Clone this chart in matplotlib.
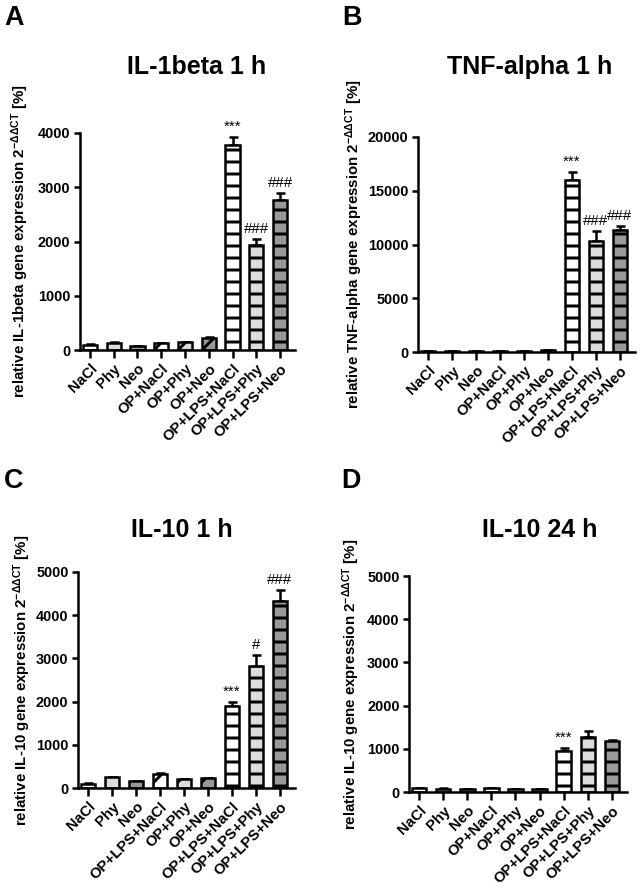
import numpy as np
import matplotlib
matplotlib.use("Agg")
import matplotlib.pyplot as plt

plt.rcParams["font.family"] = ["Liberation Sans", "DejaVu Sans"]
plt.rcParams["font.weight"] = "bold"
plt.rcParams["mathtext.fontset"] = "custom"
plt.rcParams["mathtext.rm"] = "Liberation Sans"
plt.rcParams["mathtext.it"] = "Liberation Sans:italic"
plt.rcParams["mathtext.bf"] = "Liberation Sans:bold"
plt.rcParams["hatch.linewidth"] = 3.0

# ===== data =====
groups = ["NaCl", "Phy", "Neo", "OP+NaCl", "OP+Phy", "OP+Neo",
          "OP+LPS+NaCl", "OP+LPS+Phy", "OP+LPS+Neo"]
groups_c = ["NaCl", "Phy", "Neo", "OP+LPS+NaCl", "OP+Phy", "OP+Neo",
            "OP+LPS+NaCl", "OP+LPS+Phy", "OP+LPS+Neo"]   # as printed in panel C

il1b_1h     = [100, 130, 70, 125, 145, 220, 3770, 1940, 2770]
il1b_1h_err = [10, 10, 10, 10, 10, 25, 155, 110, 115]
tnf_1h      = [60, 110, 100, 110, 70, 140, 15970, 10300, 11320]
tnf_1h_err  = [10, 20, 20, 20, 10, 30, 780, 930, 430]
il10_1h     = [95, 245, 155, 320, 205, 230, 1900, 2820, 4320]
il10_1h_err = [10, 15, 15, 20, 10, 10, 100, 255, 270]
il10_24h    = [95, 80, 75, 85, 70, 75, 940, 1265, 1170]
il10_24h_err = [5, 5, 5, 5, 5, 5, 75, 155, 40]

sig_a = ["", "", "", "", "", "", "***", "###", "###"]
sig_b = ["", "", "", "", "", "", "***", "###", "###"]
sig_c = ["", "", "", "", "", "", "***", "#", "###"]
sig_d = ["", "", "", "", "", "", "***", "", ""]

# bar styles: fill colour + hatch
FILLS   = ["white", "#dcdcdc", "#999999"] * 3
HATCHES = [""] * 3 + ["/"] * 3 + ["-"] * 3
LW = 2.5


def panel(rect, letter, letter_xy, title, title_xy, vals, errs, sig,
          labels, ymax, ystep, gene, ylab_x):
    ax = fig.add_axes(rect)
    x = np.arange(len(vals))
    for i in range(len(vals)):
        ax.bar(x[i], vals[i], width=0.6, color=FILLS[i], edgecolor="black",
               linewidth=LW, hatch=HATCHES[i], zorder=2)
    ax.errorbar(x, vals, yerr=[np.zeros(len(errs)), errs], fmt="none",
                ecolor="black", elinewidth=LW, capsize=4.5, capthick=LW, zorder=1)
    for i, s in enumerate(sig):
        if s:
            ax.annotate(s, (x[i], vals[i] + errs[i]), xytext=(0, 3),
                        textcoords="offset points", ha="center", va="bottom",
                        fontsize=15, fontweight="normal")
    ax.set_xlim(-0.42, len(vals) - 1 + 0.63)
    ax.set_ylim(0, ymax)
    ax.set_yticks(np.arange(0, ymax + 1, ystep))
    ax.set_xticks(x)
    ax.set_xticklabels(labels, rotation=45, ha="right", rotation_mode="anchor",
                       fontsize=15, fontweight="bold")
    ax.tick_params(axis="y", labelsize=14.5, length=6, width=LW)
    ax.tick_params(axis="x", length=8, width=LW)
    for lab in ax.get_yticklabels():
        lab.set_fontweight("bold")
    for s in ["top", "right"]:
        ax.spines[s].set_visible(False)
    for s in ["left", "bottom"]:
        ax.spines[s].set_linewidth(LW)
    ax.set_ylabel(f"relative {gene} gene expression 2$^{{\\mathrm{{-ΔΔCT}}}}$ [%]",
                  fontsize=15, fontweight="bold")
    ax.yaxis.set_label_coords(ylab_x, 0.5)
    fig.text(title_xy[0] / 641, 1 - title_xy[1] / 891, title, ha="center",
             va="baseline", fontsize=25, fontweight="bold")
    fig.text(letter_xy[0] / 641, 1 - letter_xy[1] / 891, letter, ha="left",
             va="baseline", fontsize=27, fontweight="bold")
    return ax


fig = plt.figure(figsize=(641 / 72, 891 / 72), dpi=72)

panel([80 / 641, 1 - 350 / 891, 215 / 641, 217 / 891], "A", (4, 25),
      "IL-1beta 1 h", (197, 74), il1b_1h, il1b_1h_err, sig_a, groups,
      4000, 1000, "IL-1beta", -0.227)
panel([418 / 641, 1 - 352 / 891, 217 / 641, 215 / 891], "B", (342, 25),
      "TNF-alpha 1 h", (530, 74), tnf_1h, tnf_1h_err, sig_b, groups,
      20000, 5000, "TNF-alpha", -0.243)
panel([78 / 641, 1 - 788 / 891, 217 / 641, 216 / 891], "C", (4, 488),
      "IL-10 1 h", (182, 537), il10_1h, il10_1h_err, sig_c, groups_c,
      5000, 1000, "IL-10", -0.208)
panel([409 / 641, 1 - 792 / 891, 218 / 641, 216 / 891], "D", (341, 488),
      "IL-10 24 h", (540, 537), il10_24h, il10_24h_err, sig_d, groups,
      5000, 1000, "IL-10", -0.216)

fig.savefig("out.png", dpi=72)
